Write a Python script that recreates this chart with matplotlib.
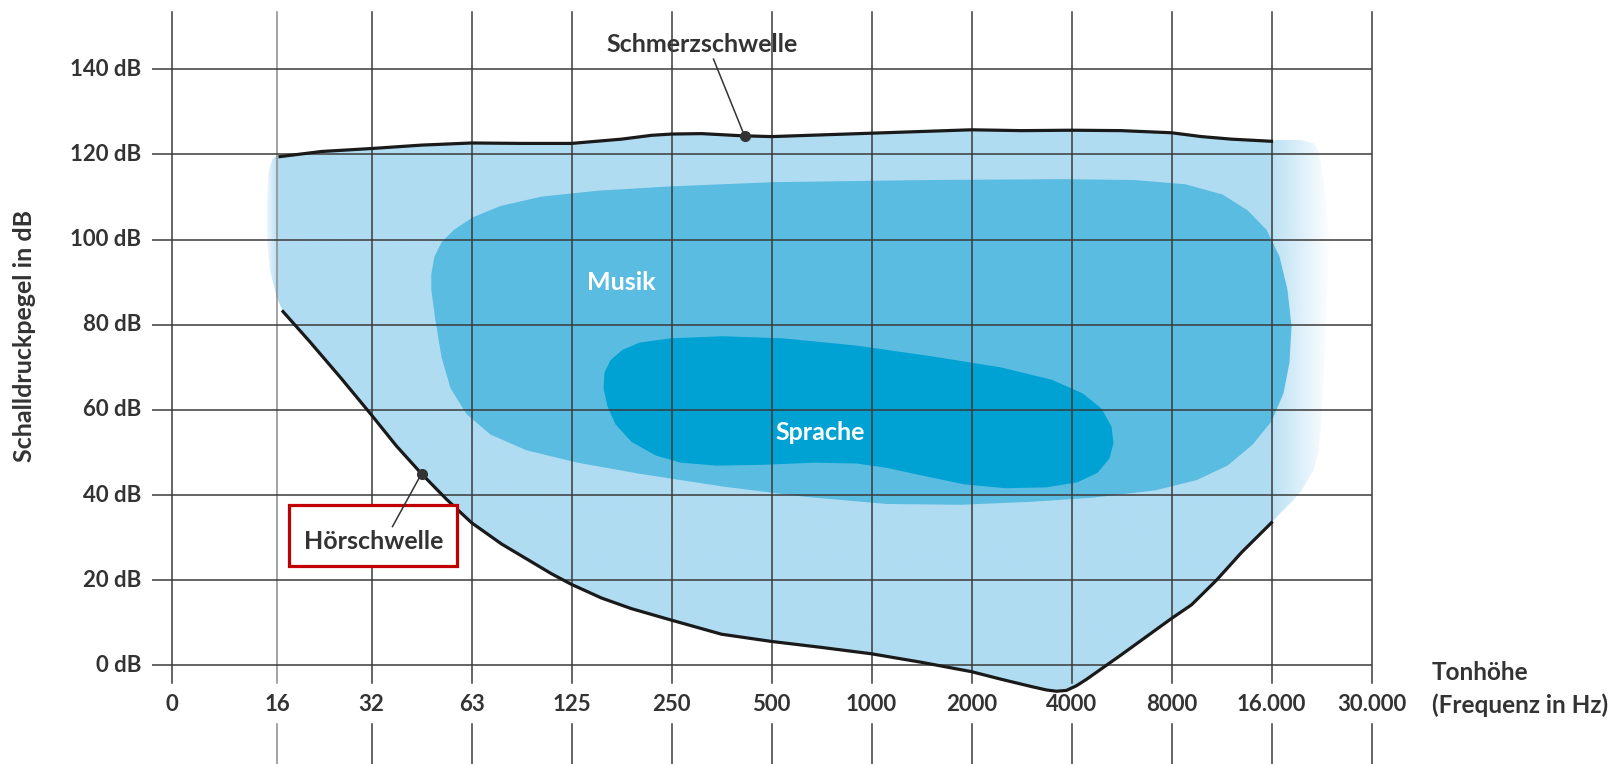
import numpy as np
import matplotlib
matplotlib.use("Agg")
import matplotlib.pyplot as plt
from matplotlib.patches import Polygon, Rectangle

plt.rcParams['font.family'] = ['Lato', 'DejaVu Sans']

# x axis: frequency columns (Hz), evenly spaced octaves
freq_labels = ['0', '16', '32', '63', '125', '250', '500', '1000', '2000',
               '4000', '8000', '16.000', '30.000']
freq_pos = [0, 1.055, 2, 3, 4, 5, 6, 7, 8, 9, 10, 11, 12]  # 16 Hz column sits a bit off
db_ticks = [0, 20, 40, 60, 80, 100, 120, 140]
db_labels = ['%d dB' % v for v in db_ticks]

# Schmerzschwelle (x in column units, y in dB)
pain_x = [1.085, 1.5, 2.0, 2.5, 3.0, 3.5, 4.0, 4.5, 4.8, 5.0, 5.3, 5.7, 6.0, 6.5,
          7.0, 7.5, 8.0, 8.5, 9.0, 9.5, 10.0, 10.3, 10.6, 11.0]
pain_y = [119.5, 120.7, 121.4, 122.2, 122.7, 122.6, 122.6, 123.6, 124.5, 124.8,
          124.9, 124.4, 124.2, 124.6, 125.0, 125.4, 125.8, 125.6, 125.7, 125.6,
          125.1, 124.2, 123.6, 123.1]

# Hörschwelle
hear_x = [1.115, 1.38, 1.69, 2.0, 2.25, 2.5, 2.75, 3.0, 3.3, 3.55, 3.8, 4.0, 4.3,
          4.6, 5.0, 5.5, 6.0, 6.5, 7.0, 7.5, 8.0, 8.3, 8.6, 8.75, 8.85, 8.95,
          9.05, 9.15, 9.5, 10.0, 10.2, 10.45, 10.7, 11.0]
hear_y = [83.1, 76.1, 67.6, 58.8, 51.5, 45.0, 39.0, 33.5, 28.5, 25.0, 21.5, 19.0,
          15.8, 13.3, 10.6, 7.3, 5.6, 4.2, 2.7, 0.7, -1.5, -3.3, -5.0, -5.8, -6.1,
          -5.9, -4.8, -3.3, 2.5, 11.0, 14.2, 20.0, 26.5, 33.5]

# outer edges of the hearing area beyond both thresholds
area_right_x = [11.05, 11.3, 11.42, 11.47, 11.53, 11.575, 11.56, 11.5, 11.47,
                11.42, 11.3, 11.19, 11.09]
area_right_y = [123.4, 123.4, 122.6, 121.0, 112.4, 100.6, 88.9, 57.6, 49.9,
                45.9, 41.0, 38.1, 35.8]
area_left_x = [1.05, 0.985, 0.955, 0.955, 0.97, 1.01, 1.05]
area_left_y = [86.6, 92.8, 100.0, 110.0, 116.0, 119.0, 119.6]

# Musik
music_x = [2.598, 2.598, 2.629, 2.701, 2.825, 3.010, 3.289, 3.701, 4.268, 4.990,
           6.02, 7.57, 8.91, 9.63, 10.14, 10.51, 10.76, 10.95, 11.08, 11.16,
           11.20, 11.18, 11.12, 11.0, 10.81, 10.56, 10.25, 9.84, 9.22, 8.60,
           7.88, 7.15, 6.33, 5.51, 4.68, 4.06, 3.55, 3.19, 2.95, 2.79, 2.70, 2.64]
music_y = [88.2, 91.9, 96.0, 99.4, 102.3, 105.2, 107.9, 110.1, 111.5, 112.5,
           113.5, 114.0, 114.2, 114.0, 113.0, 110.6, 106.9, 102.3, 96.0, 88.2,
           79.7, 71.2, 63.9, 57.3, 51.8, 46.9, 43.5, 41.1, 39.4, 38.4, 37.7,
           37.9, 39.6, 42.0, 45.0, 47.6, 50.5, 54.2, 59.0, 65.1, 72.4, 80.9]

# Sprache
speech_x = [4.32, 4.33, 4.39, 4.51, 4.68, 4.99, 5.51, 6.12, 6.85, 7.57, 8.29,
            8.80, 9.11, 9.30, 9.40, 9.42, 9.38, 9.26, 9.06, 8.75, 8.34, 7.93,
            7.52, 7.15, 6.85, 6.43, 5.92, 5.45, 5.09, 4.84, 4.60, 4.44, 4.36]
speech_y = [65.1, 68.8, 71.7, 74.1, 75.8, 76.8, 77.3, 76.8, 75.1, 72.7, 70.0,
            67.1, 63.9, 60.3, 56.1, 52.2, 48.6, 45.2, 43.0, 41.8, 41.6, 42.5,
            44.5, 46.4, 47.4, 47.6, 47.1, 46.9, 47.6, 49.3, 52.5, 56.6, 60.8]

light = '#b0dcf2'
mid = '#5bbce1'
dark = '#00a2d3'
grid_c = '#3a3a3a'
txt_c = '#333333'

fig = plt.figure(figsize=(16.19, 7.64), dpi=100)
ax = fig.add_axes([0, 0, 1, 1])
ax.axis('off')

# light area with faded edges
area = list(zip(pain_x, pain_y)) + list(zip(area_right_x, area_right_y)) \
    + list(zip(hear_x[::-1], hear_y[::-1])) + list(zip(area_left_x, area_left_y))
area_patch = Polygon(area, closed=True, facecolor='none', edgecolor='none')
ax.add_patch(area_patch)
gx = np.linspace(0.9, 11.65, 800)
alpha = np.ones_like(gx)
alpha = np.where(gx < 1.06, np.clip(0.25 + (gx - 0.95) / 0.11 * 0.75, 0.25, 1), alpha)
alpha = np.where(gx > 11.0, np.clip(0.85 - (gx - 11.0) / 0.55 * 0.8, 0.05, 1), alpha)
img = np.zeros((1, len(gx), 4))
img[..., :3] = matplotlib.colors.to_rgb(light)
img[0, :, 3] = alpha
im = ax.imshow(img, extent=[0.9, 11.65, -10, 130], aspect='auto',
               interpolation='bilinear', zorder=1)
im.set_clip_path(area_patch)

ax.add_patch(Polygon(list(zip(music_x, music_y)), closed=True,
                     facecolor=mid, edgecolor='none', zorder=2))
ax.add_patch(Polygon(list(zip(speech_x, speech_y)), closed=True,
                     facecolor=dark, edgecolor='none', zorder=3))

# grid
for i, p in enumerate(freq_pos):
    c = '#8a8a8a' if i == 1 else grid_c
    ax.plot([p, p], [-4.1, 153.5], color=c, lw=1.1, zorder=4)
    if i > 0:
        ax.plot([p, p], [-13.8, -24], color=c, lw=1.1, zorder=4)
ax.hlines(db_ticks, -0.195, freq_pos[-1], color=grid_c, lw=1.1, zorder=4)

# thresholds
ax.plot(pain_x, pain_y, color='#1a1a1a', lw=2.3, zorder=5, solid_joinstyle='round')
ax.plot(hear_x, hear_y, color='#1a1a1a', lw=2.3, zorder=5, solid_joinstyle='round')

# tick labels
for p, lab in zip(freq_pos, freq_labels):
    ax.text(p, -9.3, lab, ha='center', va='center', fontsize=16,
            fontweight='bold', color=txt_c)
for v, lab in zip(db_ticks, db_labels):
    ax.text(-0.3, v, lab, ha='right', va='center', fontsize=16,
            fontweight='bold', color=txt_c)
ax.text(-1.47, 77.4, 'Schalldruckpegel in dB', rotation=90, ha='center',
        va='center', fontsize=18, fontweight='bold', color=txt_c)
ax.text(12.6, -1.6, 'Tonhöhe', ha='left', va='center', fontsize=17.5,
        fontweight='bold', color=txt_c)
ax.text(12.6, -9.3, '(Frequenz in Hz)', ha='left', va='center', fontsize=17.5,
        fontweight='bold', color=txt_c)

# region labels
ax.text(4.5, 89.9, 'Musik', ha='center', va='center', fontsize=18,
        fontweight='bold', color='white', zorder=6)
ax.text(6.49, 54.7, 'Sprache', ha='center', va='center', fontsize=18,
        fontweight='bold', color='white', zorder=6)

# Schmerzschwelle annotation
dot_x = 5.73
dot_y = np.interp(dot_x, pain_x, pain_y)
ax.plot([5.42, dot_x], [142.4, dot_y], color='#333333', lw=1.1, zorder=6)
ax.plot(dot_x, dot_y, 'o', color='#333333', ms=7, zorder=7)
ax.text(5.31, 145.8, 'Schmerzschwelle', ha='center', va='center', fontsize=18,
        fontweight='bold', color=txt_c)

# Hörschwelle annotation
ax.add_patch(Rectangle((1.17, 23.4), 1.68, 14.2, facecolor='white',
                       edgecolor='#c00000', lw=2.3, zorder=6))
hx = 2.5
hy = np.interp(hx, hear_x, hear_y)
ax.plot([2.21, hx], [32.6, hy], color='#333333', lw=1.1, zorder=7)
ax.plot(hx, hy, 'o', color='#333333', ms=7, zorder=8)
ax.text(2.02, 29.0, 'Hörschwelle', ha='center', va='center', fontsize=18,
        fontweight='bold', color=txt_c, zorder=7)

ax.set_xlim(-1.715, 14.475)
ax.set_ylim(-23.19, 156.29)

fig.savefig('out.png', dpi=100)
